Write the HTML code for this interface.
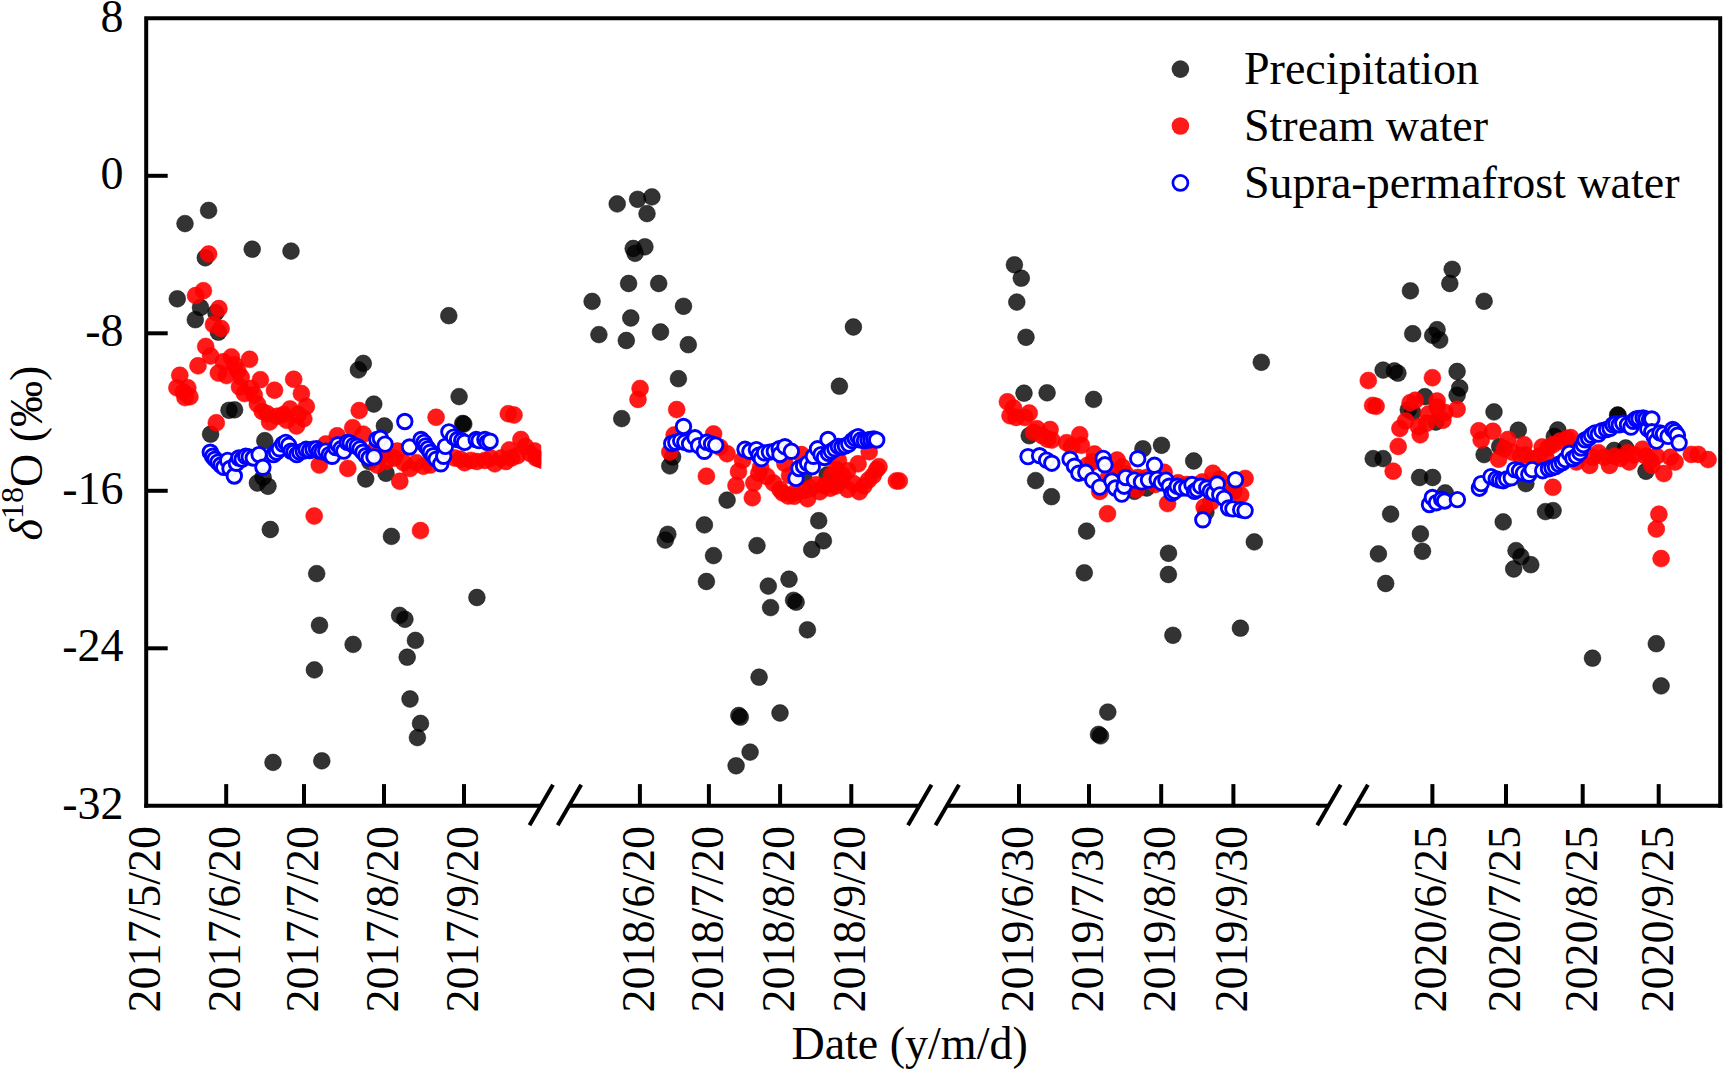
<!DOCTYPE html>
<html lang="en"><head><meta charset="utf-8"><title>Isotope time series</title>
<style>
html,body{margin:0;padding:0;background:#fff;overflow:hidden}
svg{display:block}
text{font-family:"Liberation Serif","Times New Roman",serif;fill:#000;font-size:46px}
</style></head>
<body>
<svg width="1723" height="1069" viewBox="0 0 1723 1069">
<rect width="1723" height="1069" fill="#fff"/>
<defs><clipPath id="c1"><rect x="146" y="18" width="395.2" height="788"/></clipPath></defs>
<g fill="#000" fill-opacity="0.8" stroke="#000" stroke-opacity="0.5" stroke-width="0.9">
<circle cx="208.6" cy="210.4" r="8.4"/>
<circle cx="185.0" cy="223.6" r="8.4"/>
<circle cx="252.2" cy="249.2" r="8.4"/>
<circle cx="291.0" cy="251.1" r="8.4"/>
<circle cx="205.3" cy="257.8" r="8.4"/>
<circle cx="177.3" cy="298.8" r="8.4"/>
<circle cx="200.5" cy="307.5" r="8.4"/>
<circle cx="195.3" cy="319.7" r="8.4"/>
<circle cx="215.9" cy="312.7" r="8.4"/>
<circle cx="218.4" cy="332.2" r="8.4"/>
<circle cx="363.3" cy="363.4" r="8.4"/>
<circle cx="358.4" cy="369.9" r="8.4"/>
<circle cx="373.8" cy="404.1" r="8.4"/>
<circle cx="229.0" cy="410.3" r="8.4"/>
<circle cx="234.6" cy="409.8" r="8.4"/>
<circle cx="384.4" cy="426.0" r="8.4"/>
<circle cx="210.6" cy="434.2" r="8.4"/>
<circle cx="264.8" cy="440.7" r="8.4"/>
<circle cx="257.4" cy="483.0" r="8.4"/>
<circle cx="263.1" cy="477.3" r="8.4"/>
<circle cx="268.0" cy="486.3" r="8.4"/>
<circle cx="365.7" cy="479.0" r="8.4"/>
<circle cx="386.0" cy="473.3" r="8.4"/>
<circle cx="369.8" cy="461.9" r="8.4"/>
<circle cx="448.8" cy="315.7" r="8.4"/>
<circle cx="459.1" cy="396.6" r="8.4"/>
<circle cx="462.7" cy="423.5" r="8.4"/>
<circle cx="463.8" cy="424.1" r="8.4"/>
<circle cx="592.1" cy="301.4" r="8.4"/>
<circle cx="598.9" cy="334.6" r="8.4"/>
<circle cx="630.8" cy="318.0" r="8.4"/>
<circle cx="626.3" cy="340.5" r="8.4"/>
<circle cx="660.5" cy="332.0" r="8.4"/>
<circle cx="621.7" cy="418.6" r="8.4"/>
<circle cx="678.4" cy="378.7" r="8.4"/>
<circle cx="270.3" cy="529.5" r="8.4"/>
<circle cx="391.4" cy="536.4" r="8.4"/>
<circle cx="316.7" cy="573.6" r="8.4"/>
<circle cx="476.9" cy="597.5" r="8.4"/>
<circle cx="399.6" cy="615.4" r="8.4"/>
<circle cx="404.9" cy="619.3" r="8.4"/>
<circle cx="319.5" cy="625.3" r="8.4"/>
<circle cx="353.1" cy="644.4" r="8.4"/>
<circle cx="415.4" cy="640.4" r="8.4"/>
<circle cx="407.2" cy="657.2" r="8.4"/>
<circle cx="314.4" cy="669.9" r="8.4"/>
<circle cx="273.0" cy="762.4" r="8.4"/>
<circle cx="321.8" cy="760.8" r="8.4"/>
<circle cx="410.0" cy="699.0" r="8.4"/>
<circle cx="420.5" cy="723.4" r="8.4"/>
<circle cx="417.4" cy="737.6" r="8.4"/>
<circle cx="617.2" cy="203.9" r="8.4"/>
<circle cx="637.6" cy="199.3" r="8.4"/>
<circle cx="651.9" cy="196.9" r="8.4"/>
<circle cx="647.0" cy="213.6" r="8.4"/>
<circle cx="633.2" cy="248.5" r="8.4"/>
<circle cx="644.9" cy="246.8" r="8.4"/>
<circle cx="635.1" cy="253.3" r="8.4"/>
<circle cx="628.6" cy="283.5" r="8.4"/>
<circle cx="658.7" cy="283.5" r="8.4"/>
<circle cx="683.5" cy="306.3" r="8.4"/>
<circle cx="688.3" cy="344.7" r="8.4"/>
<circle cx="839.4" cy="386.2" r="8.4"/>
<circle cx="672.6" cy="457.0" r="8.4"/>
<circle cx="669.8" cy="465.9" r="8.4"/>
<circle cx="727.1" cy="500.1" r="8.4"/>
<circle cx="827.2" cy="474.9" r="8.4"/>
<circle cx="818.7" cy="520.7" r="8.4"/>
<circle cx="803.6" cy="476.6" r="8.4"/>
<circle cx="704.4" cy="524.9" r="8.4"/>
<circle cx="667.8" cy="534.3" r="8.4"/>
<circle cx="665.3" cy="540.1" r="8.4"/>
<circle cx="823.4" cy="540.8" r="8.4"/>
<circle cx="811.7" cy="549.5" r="8.4"/>
<circle cx="757.0" cy="545.6" r="8.4"/>
<circle cx="713.5" cy="555.6" r="8.4"/>
<circle cx="706.4" cy="581.5" r="8.4"/>
<circle cx="789.0" cy="579.2" r="8.4"/>
<circle cx="768.3" cy="586.1" r="8.4"/>
<circle cx="793.6" cy="600.3" r="8.4"/>
<circle cx="796.1" cy="602.2" r="8.4"/>
<circle cx="770.6" cy="607.6" r="8.4"/>
<circle cx="807.4" cy="629.8" r="8.4"/>
<circle cx="759.1" cy="677.2" r="8.4"/>
<circle cx="738.8" cy="715.5" r="8.4"/>
<circle cx="740.3" cy="717.2" r="8.4"/>
<circle cx="780.0" cy="713.0" r="8.4"/>
<circle cx="750.1" cy="752.1" r="8.4"/>
<circle cx="736.1" cy="765.8" r="8.4"/>
<circle cx="1014.4" cy="264.8" r="8.4"/>
<circle cx="1021.3" cy="278.2" r="8.4"/>
<circle cx="1016.8" cy="302.1" r="8.4"/>
<circle cx="1026.0" cy="337.3" r="8.4"/>
<circle cx="1024.0" cy="393.2" r="8.4"/>
<circle cx="1047.1" cy="392.8" r="8.4"/>
<circle cx="1093.6" cy="399.4" r="8.4"/>
<circle cx="1261.3" cy="362.3" r="8.4"/>
<circle cx="1029.2" cy="435.7" r="8.4"/>
<circle cx="1142.9" cy="448.8" r="8.4"/>
<circle cx="1161.5" cy="445.3" r="8.4"/>
<circle cx="1193.7" cy="461.0" r="8.4"/>
<circle cx="1035.6" cy="480.6" r="8.4"/>
<circle cx="1051.5" cy="496.7" r="8.4"/>
<circle cx="1086.6" cy="531.1" r="8.4"/>
<circle cx="1168.5" cy="553.3" r="8.4"/>
<circle cx="1254.3" cy="541.9" r="8.4"/>
<circle cx="1205.9" cy="512.3" r="8.4"/>
<circle cx="1146.7" cy="488.0" r="8.4"/>
<circle cx="1134.5" cy="491.4" r="8.4"/>
<circle cx="1084.3" cy="572.8" r="8.4"/>
<circle cx="1168.4" cy="574.5" r="8.4"/>
<circle cx="1172.9" cy="635.3" r="8.4"/>
<circle cx="1240.4" cy="628.2" r="8.4"/>
<circle cx="1107.8" cy="712.1" r="8.4"/>
<circle cx="1098.5" cy="734.4" r="8.4"/>
<circle cx="1100.5" cy="735.9" r="8.4"/>
<circle cx="1452.2" cy="269.3" r="8.4"/>
<circle cx="1449.8" cy="283.5" r="8.4"/>
<circle cx="1410.4" cy="290.8" r="8.4"/>
<circle cx="1484.1" cy="301.3" r="8.4"/>
<circle cx="1412.7" cy="333.7" r="8.4"/>
<circle cx="1437.1" cy="329.7" r="8.4"/>
<circle cx="1432.7" cy="335.4" r="8.4"/>
<circle cx="1439.7" cy="340.1" r="8.4"/>
<circle cx="1383.1" cy="370.1" r="8.4"/>
<circle cx="1394.4" cy="370.9" r="8.4"/>
<circle cx="1397.9" cy="373.2" r="8.4"/>
<circle cx="1457.1" cy="371.5" r="8.4"/>
<circle cx="1459.7" cy="388.0" r="8.4"/>
<circle cx="1457.1" cy="395.3" r="8.4"/>
<circle cx="1424.9" cy="396.7" r="8.4"/>
<circle cx="1408.3" cy="409.8" r="8.4"/>
<circle cx="1412.7" cy="412.4" r="8.4"/>
<circle cx="1494.0" cy="411.9" r="8.4"/>
<circle cx="1373.2" cy="458.6" r="8.4"/>
<circle cx="1383.1" cy="458.6" r="8.4"/>
<circle cx="1419.6" cy="477.5" r="8.4"/>
<circle cx="1432.6" cy="477.5" r="8.4"/>
<circle cx="1390.6" cy="514.1" r="8.4"/>
<circle cx="1445.2" cy="492.9" r="8.4"/>
<circle cx="1518.3" cy="430.2" r="8.4"/>
<circle cx="1484.1" cy="454.6" r="8.4"/>
<circle cx="1525.9" cy="483.6" r="8.4"/>
<circle cx="1503.2" cy="521.9" r="8.4"/>
<circle cx="1499.7" cy="446.4" r="8.4"/>
<circle cx="1435.9" cy="422.1" r="8.4"/>
<circle cx="1617.6" cy="415.0" r="8.4"/>
<circle cx="1618.2" cy="415.5" r="8.4"/>
<circle cx="1557.8" cy="430.0" r="8.4"/>
<circle cx="1554.3" cy="436.4" r="8.4"/>
<circle cx="1614.1" cy="450.4" r="8.4"/>
<circle cx="1625.7" cy="448.0" r="8.4"/>
<circle cx="1646.0" cy="471.3" r="8.4"/>
<circle cx="1420.4" cy="533.9" r="8.4"/>
<circle cx="1422.5" cy="551.3" r="8.4"/>
<circle cx="1378.4" cy="553.9" r="8.4"/>
<circle cx="1385.7" cy="583.5" r="8.4"/>
<circle cx="1545.5" cy="511.6" r="8.4"/>
<circle cx="1553.1" cy="510.6" r="8.4"/>
<circle cx="1516.0" cy="550.6" r="8.4"/>
<circle cx="1521.0" cy="556.7" r="8.4"/>
<circle cx="1530.8" cy="564.7" r="8.4"/>
<circle cx="1513.7" cy="569.0" r="8.4"/>
<circle cx="1592.5" cy="658.2" r="8.4"/>
<circle cx="1656.3" cy="643.7" r="8.4"/>
<circle cx="1661.1" cy="685.9" r="8.4"/>
<circle cx="853.4" cy="327.0" r="8.4"/>
</g>
<g fill="#ff0000" fill-opacity="0.9" stroke="#ff0000" stroke-opacity="0.6" stroke-width="0.8">
<g clip-path="url(#c1)">
<circle cx="208.6" cy="254.1" r="8.5"/>
<circle cx="203.4" cy="290.7" r="8.5"/>
<circle cx="195.6" cy="295.6" r="8.5"/>
<circle cx="218.9" cy="308.6" r="8.5"/>
<circle cx="213.5" cy="324.6" r="8.5"/>
<circle cx="221.1" cy="328.5" r="8.5"/>
<circle cx="205.7" cy="346.4" r="8.5"/>
<circle cx="210.6" cy="356.0" r="8.5"/>
<circle cx="198.0" cy="365.8" r="8.5"/>
<circle cx="231.4" cy="356.9" r="8.5"/>
<circle cx="249.6" cy="359.3" r="8.5"/>
<circle cx="223.3" cy="361.7" r="8.5"/>
<circle cx="234.6" cy="365.0" r="8.5"/>
<circle cx="218.4" cy="373.1" r="8.5"/>
<circle cx="226.5" cy="375.6" r="8.5"/>
<circle cx="237.9" cy="370.7" r="8.5"/>
<circle cx="241.2" cy="377.2" r="8.5"/>
<circle cx="179.8" cy="375.3" r="8.5"/>
<circle cx="176.9" cy="387.8" r="8.5"/>
<circle cx="187.8" cy="387.8" r="8.5"/>
<circle cx="183.4" cy="391.9" r="8.5"/>
<circle cx="185.0" cy="397.6" r="8.5"/>
<circle cx="189.9" cy="396.7" r="8.5"/>
<circle cx="260.4" cy="379.7" r="8.5"/>
<circle cx="239.5" cy="387.0" r="8.5"/>
<circle cx="244.4" cy="393.5" r="8.5"/>
<circle cx="250.9" cy="388.6" r="8.5"/>
<circle cx="254.2" cy="395.1" r="8.5"/>
<circle cx="274.5" cy="390.2" r="8.5"/>
<circle cx="257.4" cy="404.1" r="8.5"/>
<circle cx="262.3" cy="411.4" r="8.5"/>
<circle cx="267.2" cy="413.8" r="8.5"/>
<circle cx="293.7" cy="379.3" r="8.5"/>
<circle cx="301.4" cy="393.5" r="8.5"/>
<circle cx="306.3" cy="406.5" r="8.5"/>
<circle cx="290.0" cy="409.0" r="8.5"/>
<circle cx="283.5" cy="414.6" r="8.5"/>
<circle cx="277.0" cy="416.3" r="8.5"/>
<circle cx="269.6" cy="422.0" r="8.5"/>
<circle cx="286.7" cy="420.3" r="8.5"/>
<circle cx="296.5" cy="426.0" r="8.5"/>
<circle cx="303.8" cy="418.7" r="8.5"/>
<circle cx="298.1" cy="414.6" r="8.5"/>
<circle cx="216.3" cy="422.8" r="8.5"/>
<circle cx="359.2" cy="410.6" r="8.5"/>
<circle cx="352.7" cy="427.7" r="8.5"/>
<circle cx="337.2" cy="435.8" r="8.5"/>
<circle cx="363.3" cy="434.2" r="8.5"/>
<circle cx="325.8" cy="444.0" r="8.5"/>
<circle cx="319.3" cy="465.1" r="8.5"/>
<circle cx="347.8" cy="468.4" r="8.5"/>
<circle cx="436.1" cy="417.3" r="8.5"/>
<circle cx="508.3" cy="413.7" r="8.5"/>
<circle cx="514.0" cy="415.0" r="8.5"/>
<circle cx="314.2" cy="516.1" r="8.5"/>
<circle cx="386.2" cy="461.5" r="8.5"/>
<circle cx="375.7" cy="448.8" r="8.5"/>
<circle cx="399.8" cy="481.3" r="8.5"/>
<circle cx="520.9" cy="439.5" r="8.5"/>
<circle cx="509.3" cy="449.9" r="8.5"/>
<circle cx="525.5" cy="446.4" r="8.5"/>
<circle cx="517.4" cy="455.7" r="8.5"/>
<circle cx="530.2" cy="453.4" r="8.5"/>
<circle cx="397.3" cy="451.1" r="8.5"/>
<circle cx="394.4" cy="458.0" r="8.5"/>
<circle cx="403.7" cy="462.7" r="8.5"/>
<circle cx="410.0" cy="468.5" r="8.5"/>
<circle cx="416.4" cy="462.7" r="8.5"/>
<circle cx="423.4" cy="466.2" r="8.5"/>
<circle cx="430.4" cy="465.0" r="8.5"/>
<circle cx="377.0" cy="465.0" r="8.5"/>
<circle cx="381.6" cy="455.7" r="8.5"/>
<circle cx="454.7" cy="458.0" r="8.5"/>
<circle cx="460.5" cy="459.2" r="8.5"/>
<circle cx="464.6" cy="462.7" r="8.5"/>
<circle cx="471.0" cy="460.4" r="8.5"/>
<circle cx="476.8" cy="461.5" r="8.5"/>
<circle cx="484.9" cy="460.4" r="8.5"/>
<circle cx="490.7" cy="458.0" r="8.5"/>
<circle cx="494.8" cy="463.8" r="8.5"/>
<circle cx="501.2" cy="458.0" r="8.5"/>
<circle cx="505.8" cy="461.5" r="8.5"/>
<circle cx="511.6" cy="458.0" r="8.5"/>
<circle cx="536.0" cy="458.0" r="8.5"/>
<circle cx="539.5" cy="459.2" r="8.5"/>
<circle cx="543.0" cy="460.4" r="8.5"/>
<circle cx="534.8" cy="451.1" r="8.5"/>
<circle cx="420.5" cy="530.6" r="8.5"/>
</g>
<circle cx="640.1" cy="388.5" r="8.5"/>
<circle cx="638.0" cy="399.4" r="8.5"/>
<circle cx="676.7" cy="409.6" r="8.5"/>
<circle cx="674.2" cy="435.0" r="8.5"/>
<circle cx="669.8" cy="452.1" r="8.5"/>
<circle cx="713.6" cy="433.9" r="8.5"/>
<circle cx="706.4" cy="476.2" r="8.5"/>
<circle cx="719.8" cy="447.2" r="8.5"/>
<circle cx="727.1" cy="453.7" r="8.5"/>
<circle cx="742.6" cy="460.2" r="8.5"/>
<circle cx="738.5" cy="471.6" r="8.5"/>
<circle cx="736.0" cy="485.5" r="8.5"/>
<circle cx="752.3" cy="497.7" r="8.5"/>
<circle cx="753.9" cy="483.0" r="8.5"/>
<circle cx="758.8" cy="473.3" r="8.5"/>
<circle cx="767.0" cy="476.5" r="8.5"/>
<circle cx="773.5" cy="483.0" r="8.5"/>
<circle cx="780.0" cy="489.5" r="8.5"/>
<circle cx="784.9" cy="463.5" r="8.5"/>
<circle cx="788.1" cy="496.0" r="8.5"/>
<circle cx="794.6" cy="492.8" r="8.5"/>
<circle cx="760.6" cy="467.3" r="8.5"/>
<circle cx="782.7" cy="492.9" r="8.5"/>
<circle cx="794.3" cy="496.3" r="8.5"/>
<circle cx="789.6" cy="475.4" r="8.5"/>
<circle cx="801.3" cy="454.6" r="8.5"/>
<circle cx="807.6" cy="498.7" r="8.5"/>
<circle cx="804.7" cy="490.5" r="8.5"/>
<circle cx="810.5" cy="488.2" r="8.5"/>
<circle cx="816.3" cy="484.7" r="8.5"/>
<circle cx="819.8" cy="491.7" r="8.5"/>
<circle cx="824.5" cy="485.9" r="8.5"/>
<circle cx="830.3" cy="488.2" r="8.5"/>
<circle cx="836.1" cy="485.9" r="8.5"/>
<circle cx="840.7" cy="481.3" r="8.5"/>
<circle cx="838.4" cy="460.4" r="8.5"/>
<circle cx="836.1" cy="469.6" r="8.5"/>
<circle cx="847.7" cy="470.8" r="8.5"/>
<circle cx="847.7" cy="489.4" r="8.5"/>
<circle cx="853.5" cy="483.6" r="8.5"/>
<circle cx="858.1" cy="463.8" r="8.5"/>
<circle cx="859.3" cy="491.7" r="8.5"/>
<circle cx="863.9" cy="485.9" r="8.5"/>
<circle cx="869.2" cy="451.7" r="8.5"/>
<circle cx="868.6" cy="480.1" r="8.5"/>
<circle cx="873.2" cy="475.4" r="8.5"/>
<circle cx="876.7" cy="469.6" r="8.5"/>
<circle cx="879.0" cy="466.7" r="8.5"/>
<circle cx="843.0" cy="475.4" r="8.5"/>
<circle cx="831.4" cy="475.4" r="8.5"/>
<circle cx="896.4" cy="480.9" r="8.5"/>
<circle cx="899.3" cy="480.9" r="8.5"/>
<circle cx="1007.4" cy="401.8" r="8.5"/>
<circle cx="1013.5" cy="407.9" r="8.5"/>
<circle cx="1010.0" cy="415.7" r="8.5"/>
<circle cx="1016.1" cy="417.4" r="8.5"/>
<circle cx="1029.2" cy="413.1" r="8.5"/>
<circle cx="1024.8" cy="417.4" r="8.5"/>
<circle cx="1037.0" cy="428.8" r="8.5"/>
<circle cx="1033.5" cy="432.2" r="8.5"/>
<circle cx="1050.1" cy="429.6" r="8.5"/>
<circle cx="1042.2" cy="435.7" r="8.5"/>
<circle cx="1047.5" cy="439.2" r="8.5"/>
<circle cx="1051.8" cy="440.1" r="8.5"/>
<circle cx="1079.7" cy="434.8" r="8.5"/>
<circle cx="1066.6" cy="442.7" r="8.5"/>
<circle cx="1071.8" cy="446.2" r="8.5"/>
<circle cx="1081.4" cy="445.3" r="8.5"/>
<circle cx="1094.5" cy="454.0" r="8.5"/>
<circle cx="1092.7" cy="461.8" r="8.5"/>
<circle cx="1087.5" cy="465.3" r="8.5"/>
<circle cx="1117.1" cy="460.1" r="8.5"/>
<circle cx="1122.3" cy="467.1" r="8.5"/>
<circle cx="1115.4" cy="472.3" r="8.5"/>
<circle cx="1108.4" cy="477.5" r="8.5"/>
<circle cx="1099.7" cy="491.4" r="8.5"/>
<circle cx="1107.5" cy="513.7" r="8.5"/>
<circle cx="1138.0" cy="477.5" r="8.5"/>
<circle cx="1136.3" cy="489.7" r="8.5"/>
<circle cx="1164.1" cy="472.3" r="8.5"/>
<circle cx="1167.6" cy="503.6" r="8.5"/>
<circle cx="1212.9" cy="473.2" r="8.5"/>
<circle cx="1219.8" cy="479.3" r="8.5"/>
<circle cx="1202.4" cy="481.9" r="8.5"/>
<circle cx="1245.1" cy="478.4" r="8.5"/>
<circle cx="1240.7" cy="494.9" r="8.5"/>
<circle cx="1233.8" cy="491.4" r="8.5"/>
<circle cx="1204.2" cy="507.1" r="8.5"/>
<circle cx="1211.1" cy="501.9" r="8.5"/>
<circle cx="1186.8" cy="484.5" r="8.5"/>
<circle cx="1125.8" cy="474.0" r="8.5"/>
<circle cx="1146.7" cy="477.5" r="8.5"/>
<circle cx="1155.4" cy="484.5" r="8.5"/>
<circle cx="1178.1" cy="482.7" r="8.5"/>
<circle cx="1195.5" cy="486.2" r="8.5"/>
<circle cx="1226.8" cy="488.0" r="8.5"/>
<circle cx="1368.3" cy="380.5" r="8.5"/>
<circle cx="1432.4" cy="377.7" r="8.5"/>
<circle cx="1372.6" cy="405.4" r="8.5"/>
<circle cx="1376.1" cy="406.3" r="8.5"/>
<circle cx="1410.1" cy="402.8" r="8.5"/>
<circle cx="1415.3" cy="400.2" r="8.5"/>
<circle cx="1437.1" cy="401.1" r="8.5"/>
<circle cx="1457.1" cy="409.2" r="8.5"/>
<circle cx="1444.9" cy="412.4" r="8.5"/>
<circle cx="1428.4" cy="414.1" r="8.5"/>
<circle cx="1405.7" cy="420.9" r="8.5"/>
<circle cx="1399.9" cy="428.4" r="8.5"/>
<circle cx="1398.2" cy="446.4" r="8.5"/>
<circle cx="1393.2" cy="471.2" r="8.5"/>
<circle cx="1420.2" cy="434.8" r="8.5"/>
<circle cx="1418.5" cy="426.7" r="8.5"/>
<circle cx="1426.6" cy="423.2" r="8.5"/>
<circle cx="1437.1" cy="407.0" r="8.5"/>
<circle cx="1442.9" cy="420.3" r="8.5"/>
<circle cx="1478.8" cy="430.8" r="8.5"/>
<circle cx="1481.2" cy="440.0" r="8.5"/>
<circle cx="1492.8" cy="431.3" r="8.5"/>
<circle cx="1507.9" cy="439.5" r="8.5"/>
<circle cx="1504.4" cy="448.8" r="8.5"/>
<circle cx="1498.6" cy="459.2" r="8.5"/>
<circle cx="1512.5" cy="452.2" r="8.5"/>
<circle cx="1524.1" cy="444.7" r="8.5"/>
<circle cx="1520.6" cy="455.7" r="8.5"/>
<circle cx="1533.4" cy="459.2" r="8.5"/>
<circle cx="1525.3" cy="455.0" r="8.5"/>
<circle cx="1546.2" cy="458.5" r="8.5"/>
<circle cx="1539.3" cy="456.2" r="8.5"/>
<circle cx="1542.2" cy="446.9" r="8.5"/>
<circle cx="1548.0" cy="448.0" r="8.5"/>
<circle cx="1553.2" cy="444.6" r="8.5"/>
<circle cx="1560.1" cy="441.1" r="8.5"/>
<circle cx="1567.1" cy="438.8" r="8.5"/>
<circle cx="1570.6" cy="437.6" r="8.5"/>
<circle cx="1552.9" cy="487.3" r="8.5"/>
<circle cx="1576.4" cy="462.0" r="8.5"/>
<circle cx="1589.7" cy="465.4" r="8.5"/>
<circle cx="1592.6" cy="457.3" r="8.5"/>
<circle cx="1598.4" cy="452.7" r="8.5"/>
<circle cx="1604.3" cy="457.3" r="8.5"/>
<circle cx="1609.5" cy="465.4" r="8.5"/>
<circle cx="1614.7" cy="456.2" r="8.5"/>
<circle cx="1620.5" cy="458.5" r="8.5"/>
<circle cx="1629.2" cy="462.0" r="8.5"/>
<circle cx="1627.5" cy="452.7" r="8.5"/>
<circle cx="1634.4" cy="455.0" r="8.5"/>
<circle cx="1642.6" cy="449.2" r="8.5"/>
<circle cx="1646.0" cy="456.2" r="8.5"/>
<circle cx="1650.7" cy="460.8" r="8.5"/>
<circle cx="1651.8" cy="465.4" r="8.5"/>
<circle cx="1656.5" cy="456.2" r="8.5"/>
<circle cx="1663.8" cy="473.6" r="8.5"/>
<circle cx="1670.4" cy="457.3" r="8.5"/>
<circle cx="1675.1" cy="462.0" r="8.5"/>
<circle cx="1691.3" cy="454.4" r="8.5"/>
<circle cx="1698.3" cy="454.4" r="8.5"/>
<circle cx="1708.1" cy="459.6" r="8.5"/>
<circle cx="1658.9" cy="514.2" r="8.5"/>
<circle cx="1656.3" cy="529.0" r="8.5"/>
<circle cx="1661.1" cy="558.6" r="8.5"/>
</g>
<g fill="#fff" fill-opacity="0.95" stroke="#0000ff" stroke-width="2.9">
<circle cx="210.3" cy="452.2" r="7.25"/>
<circle cx="212.6" cy="456.3" r="7.25"/>
<circle cx="215.0" cy="459.2" r="7.25"/>
<circle cx="217.9" cy="462.1" r="7.25"/>
<circle cx="220.8" cy="465.0" r="7.25"/>
<circle cx="223.7" cy="467.3" r="7.25"/>
<circle cx="227.7" cy="460.4" r="7.25"/>
<circle cx="230.0" cy="468.5" r="7.25"/>
<circle cx="234.3" cy="476.0" r="7.25"/>
<circle cx="236.4" cy="463.3" r="7.25"/>
<circle cx="238.8" cy="458.0" r="7.25"/>
<circle cx="242.2" cy="459.2" r="7.25"/>
<circle cx="245.7" cy="456.3" r="7.25"/>
<circle cx="249.2" cy="456.9" r="7.25"/>
<circle cx="253.3" cy="458.0" r="7.25"/>
<circle cx="259.1" cy="454.6" r="7.25"/>
<circle cx="262.9" cy="467.3" r="7.25"/>
<circle cx="273.6" cy="454.6" r="7.25"/>
<circle cx="276.5" cy="452.2" r="7.25"/>
<circle cx="279.4" cy="448.8" r="7.25"/>
<circle cx="282.9" cy="444.1" r="7.25"/>
<circle cx="285.8" cy="442.4" r="7.25"/>
<circle cx="288.7" cy="445.3" r="7.25"/>
<circle cx="291.0" cy="451.1" r="7.25"/>
<circle cx="293.9" cy="452.2" r="7.25"/>
<circle cx="296.8" cy="454.6" r="7.25"/>
<circle cx="299.7" cy="452.2" r="7.25"/>
<circle cx="303.2" cy="451.1" r="7.25"/>
<circle cx="306.1" cy="449.3" r="7.25"/>
<circle cx="309.6" cy="450.5" r="7.25"/>
<circle cx="313.0" cy="449.3" r="7.25"/>
<circle cx="316.5" cy="448.8" r="7.25"/>
<circle cx="319.4" cy="451.1" r="7.25"/>
<circle cx="322.3" cy="451.7" r="7.25"/>
<circle cx="325.8" cy="451.1" r="7.25"/>
<circle cx="329.3" cy="454.6" r="7.25"/>
<circle cx="332.2" cy="456.3" r="7.25"/>
<circle cx="335.7" cy="447.6" r="7.25"/>
<circle cx="338.0" cy="444.7" r="7.25"/>
<circle cx="340.9" cy="448.8" r="7.25"/>
<circle cx="343.8" cy="451.1" r="7.25"/>
<circle cx="347.3" cy="442.4" r="7.25"/>
<circle cx="350.2" cy="442.9" r="7.25"/>
<circle cx="353.7" cy="445.3" r="7.25"/>
<circle cx="357.2" cy="446.4" r="7.25"/>
<circle cx="360.1" cy="448.8" r="7.25"/>
<circle cx="363.0" cy="452.2" r="7.25"/>
<circle cx="365.9" cy="455.7" r="7.25"/>
<circle cx="369.3" cy="458.0" r="7.25"/>
<circle cx="374.0" cy="456.9" r="7.25"/>
<circle cx="376.9" cy="439.5" r="7.25"/>
<circle cx="380.4" cy="438.3" r="7.25"/>
<circle cx="385.0" cy="444.1" r="7.25"/>
<circle cx="404.8" cy="421.5" r="7.25"/>
<circle cx="409.5" cy="447.0" r="7.25"/>
<circle cx="421.1" cy="439.5" r="7.25"/>
<circle cx="424.0" cy="442.4" r="7.25"/>
<circle cx="425.7" cy="445.9" r="7.25"/>
<circle cx="428.0" cy="448.8" r="7.25"/>
<circle cx="430.4" cy="452.2" r="7.25"/>
<circle cx="433.3" cy="455.7" r="7.25"/>
<circle cx="436.2" cy="459.2" r="7.25"/>
<circle cx="440.8" cy="463.8" r="7.25"/>
<circle cx="443.7" cy="456.3" r="7.25"/>
<circle cx="445.4" cy="446.4" r="7.25"/>
<circle cx="448.9" cy="431.9" r="7.25"/>
<circle cx="453.6" cy="437.1" r="7.25"/>
<circle cx="457.6" cy="439.5" r="7.25"/>
<circle cx="461.7" cy="440.6" r="7.25"/>
<circle cx="464.6" cy="442.4" r="7.25"/>
<circle cx="476.2" cy="439.5" r="7.25"/>
<circle cx="479.1" cy="440.6" r="7.25"/>
<circle cx="484.9" cy="439.5" r="7.25"/>
<circle cx="487.2" cy="442.4" r="7.25"/>
<circle cx="490.1" cy="441.2" r="7.25"/>
<circle cx="671.7" cy="443.5" r="7.25"/>
<circle cx="675.8" cy="442.3" r="7.25"/>
<circle cx="680.7" cy="440.7" r="7.25"/>
<circle cx="683.5" cy="426.5" r="7.25"/>
<circle cx="684.8" cy="442.3" r="7.25"/>
<circle cx="689.6" cy="444.0" r="7.25"/>
<circle cx="695.0" cy="437.8" r="7.25"/>
<circle cx="698.6" cy="445.6" r="7.25"/>
<circle cx="704.3" cy="451.3" r="7.25"/>
<circle cx="706.7" cy="442.3" r="7.25"/>
<circle cx="711.6" cy="444.0" r="7.25"/>
<circle cx="715.7" cy="445.1" r="7.25"/>
<circle cx="745.0" cy="449.3" r="7.25"/>
<circle cx="749.9" cy="451.3" r="7.25"/>
<circle cx="756.4" cy="449.6" r="7.25"/>
<circle cx="758.8" cy="455.3" r="7.25"/>
<circle cx="761.3" cy="458.6" r="7.25"/>
<circle cx="764.5" cy="452.9" r="7.25"/>
<circle cx="769.4" cy="452.1" r="7.25"/>
<circle cx="774.3" cy="451.3" r="7.25"/>
<circle cx="779.2" cy="448.8" r="7.25"/>
<circle cx="780.0" cy="454.5" r="7.25"/>
<circle cx="784.9" cy="446.7" r="7.25"/>
<circle cx="791.4" cy="451.3" r="7.25"/>
<circle cx="796.0" cy="478.4" r="7.25"/>
<circle cx="798.9" cy="468.5" r="7.25"/>
<circle cx="803.6" cy="466.2" r="7.25"/>
<circle cx="807.6" cy="463.3" r="7.25"/>
<circle cx="812.3" cy="466.7" r="7.25"/>
<circle cx="813.4" cy="456.3" r="7.25"/>
<circle cx="817.5" cy="448.8" r="7.25"/>
<circle cx="821.0" cy="454.6" r="7.25"/>
<circle cx="824.5" cy="457.5" r="7.25"/>
<circle cx="828.0" cy="439.5" r="7.25"/>
<circle cx="828.5" cy="453.4" r="7.25"/>
<circle cx="831.4" cy="451.1" r="7.25"/>
<circle cx="834.9" cy="448.8" r="7.25"/>
<circle cx="838.4" cy="446.4" r="7.25"/>
<circle cx="841.9" cy="447.0" r="7.25"/>
<circle cx="845.4" cy="445.9" r="7.25"/>
<circle cx="848.8" cy="444.1" r="7.25"/>
<circle cx="852.3" cy="440.6" r="7.25"/>
<circle cx="855.2" cy="438.3" r="7.25"/>
<circle cx="858.1" cy="436.6" r="7.25"/>
<circle cx="861.0" cy="440.0" r="7.25"/>
<circle cx="864.5" cy="440.6" r="7.25"/>
<circle cx="868.0" cy="440.0" r="7.25"/>
<circle cx="870.9" cy="439.5" r="7.25"/>
<circle cx="873.8" cy="438.9" r="7.25"/>
<circle cx="876.7" cy="440.0" r="7.25"/>
<circle cx="1028.0" cy="456.6" r="7.25"/>
<circle cx="1039.6" cy="455.7" r="7.25"/>
<circle cx="1046.6" cy="460.1" r="7.25"/>
<circle cx="1051.8" cy="463.2" r="7.25"/>
<circle cx="1070.1" cy="459.2" r="7.25"/>
<circle cx="1074.5" cy="466.2" r="7.25"/>
<circle cx="1078.8" cy="473.2" r="7.25"/>
<circle cx="1085.8" cy="472.3" r="7.25"/>
<circle cx="1092.7" cy="480.1" r="7.25"/>
<circle cx="1099.7" cy="487.1" r="7.25"/>
<circle cx="1103.2" cy="458.4" r="7.25"/>
<circle cx="1104.9" cy="464.8" r="7.25"/>
<circle cx="1111.9" cy="481.0" r="7.25"/>
<circle cx="1115.4" cy="488.0" r="7.25"/>
<circle cx="1121.8" cy="494.1" r="7.25"/>
<circle cx="1124.1" cy="486.2" r="7.25"/>
<circle cx="1125.8" cy="477.5" r="7.25"/>
<circle cx="1134.5" cy="480.1" r="7.25"/>
<circle cx="1137.7" cy="458.7" r="7.25"/>
<circle cx="1141.5" cy="481.9" r="7.25"/>
<circle cx="1148.5" cy="480.1" r="7.25"/>
<circle cx="1154.5" cy="465.3" r="7.25"/>
<circle cx="1157.2" cy="479.3" r="7.25"/>
<circle cx="1161.5" cy="482.7" r="7.25"/>
<circle cx="1165.9" cy="480.1" r="7.25"/>
<circle cx="1169.3" cy="486.2" r="7.25"/>
<circle cx="1172.0" cy="493.2" r="7.25"/>
<circle cx="1174.6" cy="491.4" r="7.25"/>
<circle cx="1177.2" cy="486.2" r="7.25"/>
<circle cx="1181.5" cy="488.0" r="7.25"/>
<circle cx="1186.8" cy="488.0" r="7.25"/>
<circle cx="1192.0" cy="484.5" r="7.25"/>
<circle cx="1194.6" cy="491.4" r="7.25"/>
<circle cx="1197.2" cy="489.7" r="7.25"/>
<circle cx="1200.7" cy="486.2" r="7.25"/>
<circle cx="1202.8" cy="519.8" r="7.25"/>
<circle cx="1206.8" cy="488.0" r="7.25"/>
<circle cx="1210.3" cy="491.4" r="7.25"/>
<circle cx="1213.8" cy="493.2" r="7.25"/>
<circle cx="1217.2" cy="484.0" r="7.25"/>
<circle cx="1219.8" cy="494.9" r="7.25"/>
<circle cx="1224.2" cy="498.4" r="7.25"/>
<circle cx="1228.6" cy="508.0" r="7.25"/>
<circle cx="1232.9" cy="508.9" r="7.25"/>
<circle cx="1235.5" cy="479.8" r="7.25"/>
<circle cx="1240.7" cy="509.7" r="7.25"/>
<circle cx="1245.1" cy="510.6" r="7.25"/>
<circle cx="1429.5" cy="504.5" r="7.25"/>
<circle cx="1432.4" cy="497.5" r="7.25"/>
<circle cx="1436.5" cy="502.7" r="7.25"/>
<circle cx="1441.7" cy="499.2" r="7.25"/>
<circle cx="1444.6" cy="501.0" r="7.25"/>
<circle cx="1457.4" cy="499.6" r="7.25"/>
<circle cx="1479.4" cy="488.2" r="7.25"/>
<circle cx="1481.2" cy="483.6" r="7.25"/>
<circle cx="1491.0" cy="476.6" r="7.25"/>
<circle cx="1496.3" cy="478.9" r="7.25"/>
<circle cx="1499.7" cy="480.1" r="7.25"/>
<circle cx="1503.2" cy="480.7" r="7.25"/>
<circle cx="1506.7" cy="478.9" r="7.25"/>
<circle cx="1511.3" cy="477.8" r="7.25"/>
<circle cx="1514.8" cy="469.6" r="7.25"/>
<circle cx="1519.5" cy="470.8" r="7.25"/>
<circle cx="1523.5" cy="473.1" r="7.25"/>
<circle cx="1528.8" cy="474.3" r="7.25"/>
<circle cx="1532.2" cy="469.6" r="7.25"/>
<circle cx="1542.7" cy="470.7" r="7.25"/>
<circle cx="1548.5" cy="468.9" r="7.25"/>
<circle cx="1552.0" cy="467.8" r="7.25"/>
<circle cx="1555.5" cy="466.6" r="7.25"/>
<circle cx="1559.0" cy="464.3" r="7.25"/>
<circle cx="1562.5" cy="462.5" r="7.25"/>
<circle cx="1565.4" cy="459.6" r="7.25"/>
<circle cx="1569.4" cy="453.3" r="7.25"/>
<circle cx="1572.9" cy="458.5" r="7.25"/>
<circle cx="1576.4" cy="456.2" r="7.25"/>
<circle cx="1579.9" cy="452.7" r="7.25"/>
<circle cx="1581.0" cy="448.0" r="7.25"/>
<circle cx="1583.4" cy="444.6" r="7.25"/>
<circle cx="1585.1" cy="439.9" r="7.25"/>
<circle cx="1588.6" cy="438.2" r="7.25"/>
<circle cx="1591.5" cy="435.3" r="7.25"/>
<circle cx="1595.0" cy="432.9" r="7.25"/>
<circle cx="1598.4" cy="434.1" r="7.25"/>
<circle cx="1601.9" cy="430.6" r="7.25"/>
<circle cx="1606.6" cy="429.5" r="7.25"/>
<circle cx="1610.1" cy="428.3" r="7.25"/>
<circle cx="1613.0" cy="424.8" r="7.25"/>
<circle cx="1615.9" cy="423.7" r="7.25"/>
<circle cx="1619.3" cy="424.8" r="7.25"/>
<circle cx="1622.8" cy="423.1" r="7.25"/>
<circle cx="1627.5" cy="424.8" r="7.25"/>
<circle cx="1631.0" cy="427.1" r="7.25"/>
<circle cx="1633.3" cy="421.3" r="7.25"/>
<circle cx="1636.2" cy="419.0" r="7.25"/>
<circle cx="1639.1" cy="418.4" r="7.25"/>
<circle cx="1643.1" cy="417.9" r="7.25"/>
<circle cx="1646.0" cy="419.0" r="7.25"/>
<circle cx="1647.8" cy="428.9" r="7.25"/>
<circle cx="1649.5" cy="419.6" r="7.25"/>
<circle cx="1651.8" cy="419.0" r="7.25"/>
<circle cx="1651.8" cy="431.8" r="7.25"/>
<circle cx="1654.2" cy="436.4" r="7.25"/>
<circle cx="1656.5" cy="441.1" r="7.25"/>
<circle cx="1660.0" cy="432.9" r="7.25"/>
<circle cx="1663.5" cy="434.1" r="7.25"/>
<circle cx="1668.1" cy="436.4" r="7.25"/>
<circle cx="1672.7" cy="429.5" r="7.25"/>
<circle cx="1675.1" cy="431.8" r="7.25"/>
<circle cx="1677.4" cy="435.3" r="7.25"/>
<circle cx="1679.1" cy="442.8" r="7.25"/>
</g>
<g stroke="#000" stroke-width="4" fill="none">
<path d="M146.2 807.8V18.25H1720.2V807.8"/>
<path d="M144.2 805.8H540.5"/>
<path d="M569 805.8H919.5"/>
<path d="M947 805.8H1328.5"/>
<path d="M1356.5 805.8H1722.2"/>
<path d="M146.2 175.8h21.5"/>
<path d="M146.2 333.3h21.5"/>
<path d="M146.2 490.8h21.5"/>
<path d="M146.2 648.3h21.5"/>
<path d="M226.2 805.8v-21.7"/>
<path d="M304.0 805.8v-21.7"/>
<path d="M384.0 805.8v-21.7"/>
<path d="M464.0 805.8v-21.7"/>
<path d="M639.9 805.8v-21.7"/>
<path d="M708.9 805.8v-21.7"/>
<path d="M780.1 805.8v-21.7"/>
<path d="M851.3 805.8v-21.7"/>
<path d="M1019.0 805.8v-21.7"/>
<path d="M1089.0 805.8v-21.7"/>
<path d="M1161.2 805.8v-21.7"/>
<path d="M1233.4 805.8v-21.7"/>
<path d="M1432.4 805.8v-21.7"/>
<path d="M1506.0 805.8v-21.7"/>
<path d="M1582.7 805.8v-21.7"/>
<path d="M1658.7 805.8v-21.7"/>
<path d="M529.5 825.3L553.0 784.8"/>
<path d="M557.7 825.3L581.2 784.8"/>
<path d="M908 825.3L931.5 784.8"/>
<path d="M935.5 825.3L959.0 784.8"/>
<path d="M1317.2 825.3L1340.7 784.8"/>
<path d="M1344.4 825.3L1367.9 784.8"/>
</g>
<text transform="translate(160.0 826) rotate(-90)" text-anchor="end">2017/5/20</text>
<text transform="translate(240.1 826) rotate(-90)" text-anchor="end">2017/6/20</text>
<text transform="translate(317.9 826) rotate(-90)" text-anchor="end">2017/7/20</text>
<text transform="translate(397.9 826) rotate(-90)" text-anchor="end">2017/8/20</text>
<text transform="translate(477.9 826) rotate(-90)" text-anchor="end">2017/9/20</text>
<text transform="translate(653.8 826) rotate(-90)" text-anchor="end">2018/6/20</text>
<text transform="translate(722.8 826) rotate(-90)" text-anchor="end">2018/7/20</text>
<text transform="translate(794.0 826) rotate(-90)" text-anchor="end">2018/8/20</text>
<text transform="translate(865.2 826) rotate(-90)" text-anchor="end">2018/9/20</text>
<text transform="translate(1032.9 826) rotate(-90)" text-anchor="end">2019/6/30</text>
<text transform="translate(1102.9 826) rotate(-90)" text-anchor="end">2019/7/30</text>
<text transform="translate(1175.1 826) rotate(-90)" text-anchor="end">2019/8/30</text>
<text transform="translate(1247.3 826) rotate(-90)" text-anchor="end">2019/9/30</text>
<text transform="translate(1446.3 826) rotate(-90)" text-anchor="end">2020/6/25</text>
<text transform="translate(1519.9 826) rotate(-90)" text-anchor="end">2020/7/25</text>
<text transform="translate(1596.6 826) rotate(-90)" text-anchor="end">2020/8/25</text>
<text transform="translate(1672.6 826) rotate(-90)" text-anchor="end">2020/9/25</text>
<text x="123.5" y="32.1" text-anchor="end">8</text>
<text x="123.5" y="188.8" text-anchor="end">0</text>
<text x="123.5" y="346.3" text-anchor="end">-8</text>
<text x="123.5" y="503.8" text-anchor="end">-16</text>
<text x="123.5" y="661.3" text-anchor="end">-24</text>
<text x="123.5" y="818.8" text-anchor="end">-32</text>
<text x="909.6" y="1058.8" text-anchor="middle" font-size="46.35">Date (y/m/d)</text>
<text transform="translate(42 453) rotate(-90)" text-anchor="middle"><tspan font-style="italic">δ</tspan><tspan font-size="32" dy="-18.6">18</tspan><tspan dy="18.6">O (‰)</tspan></text>
<circle cx="1180.4" cy="69.1" r="8.8" fill="#333"/>
<circle cx="1180.4" cy="126" r="8.8" fill="#ff1a1a"/>
<circle cx="1180.4" cy="182.9" r="7.5" fill="#fff" stroke="#0000ff" stroke-width="2.7"/>
<text x="1244" y="84.1">Precipitation</text>
<text x="1244" y="141">Stream water</text>
<text x="1244" y="197.9">Supra-permafrost water</text>
</svg>
</body></html>
